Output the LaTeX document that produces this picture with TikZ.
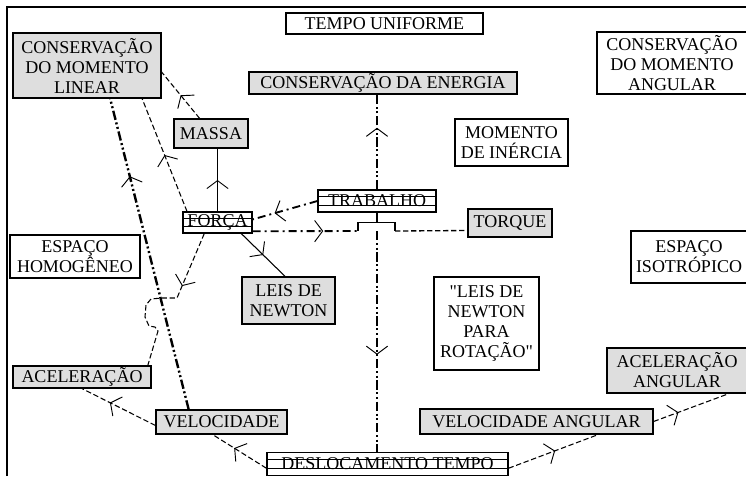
\documentclass[tikz,border=0pt]{standalone}
\usepackage{fontspec}
\newfontfamily\boxfont{Liberation Serif}
\usetikzlibrary{arrows.meta, positioning, calc, decorations.markings}
\definecolor{boxgray}{RGB}{222,222,222}

\begin{document}
\begin{tikzpicture}[
    x=0.75pt, y=-0.75pt,
    font=\boxfont\fontsize{13.5}{15}\selectfont,
    box/.style={rectangle, draw=black, line width=0.9pt, fill=white, align=center, inner sep=1pt},
    gbox/.style={box, fill=boxgray},
    sbox/.style={box, path picture={
        \draw ($(path picture bounding box.north west)!0.3!(path picture bounding box.south west)$)
           -- ($(path picture bounding box.north east)!0.3!(path picture bounding box.south east)$);
        \draw ($(path picture bounding box.north west)!0.7!(path picture bounding box.south west)$)
           -- ($(path picture bounding box.north east)!0.7!(path picture bounding box.south east)$);}},
    sz/.style 2 args={minimum width=#1*0.75pt, minimum height=#2*0.75pt},
    arr/.style={postaction={decorate}, decoration={markings, mark=at position #1 with
        {\arrow{Straight Barb[length=6pt, width=16pt, line width=0.7pt]}}}},
    dsh/.style={line width=0.8pt, dash pattern=on 4pt off 2pt},
    dshdot/.style={line width=1.4pt, dash pattern=on 6pt off 3pt on 1.5pt off 3pt},
    ddot/.style={line width=1.8pt, dash pattern=on 7pt off 2pt on 1.5pt off 2pt on 1.5pt off 2pt},
]
\clip (0,0) rectangle (746,476);

% Frame
\draw[line width=1pt] (7,476) -- (7,7) -- (746,7);

% Top row
\node[box, sz={197}{21}] (tempo) at (384.5,23.5) {TEMPO UNIFORME};
\node[gbox, sz={148}{65}] (conslin) at (87,65.5) {CONSERVAÇÃO\\DO MOMENTO\\LINEAR};
\node[gbox, sz={268}{22}] (consen) at (383,83) {CONSERVAÇÃO DA ENERGIA};
\node[box, sz={150}{62}] (consang) at (672,63) {CONSERVAÇÃO\\DO MOMENTO\\ANGULAR};

% Middle
\node[gbox, sz={74}{29}] (massa) at (211,133.5) {MASSA};
\node[box, sz={113}{47}] (inercia) at (511.5,142.5) {MOMENTO\\DE INÉRCIA};
\node[sbox, sz={118}{22}] (trabalho) at (377,201) {TRABALHO};
\node[sbox, sz={69}{21}] (forca) at (217.5,222.5) {FORÇA};
\node[gbox, sz={84}{28}] (torque) at (510,223) {TORQUE};
\node[box, sz={130}{43}] (homog) at (75,256.5) {ESPAÇO\\HOMOGÊNEO};
\node[box, sz={116}{52}] (isotrop) at (689,257) {ESPAÇO\\ISOTRÓPICO};
\node[gbox, sz={93}{47}] (newton) at (288.5,300.5) {LEIS DE\\NEWTON};
\node[box, sz={105}{93}] (rotacao) at (486.5,323.5) {"LEIS DE\\NEWTON\\PARA\\ROTAÇÃO"};

% Bottom
\node[gbox, sz={138}{22}] (acel) at (82,377) {ACELERAÇÃO};
\node[gbox, sz={140}{45}] (acelang) at (677,370.5) {ACELERAÇÃO\\ANGULAR};
\node[gbox, sz={131}{24}] (veloc) at (221.5,422) {VELOCIDADE};
\node[gbox, sz={233}{25}] (velang) at (536.5,421.5) {VELOCIDADE ANGULAR};
\node[sbox, sz={241}{23}] (desloc) at (387.5,464) {DESLOCAMENTO TEMPO};

% Junction points
\coordinate (jl) at (358,231);
\coordinate (jr) at (395,231);
\coordinate (hop) at (162,298);

% Connectors
\draw[dsh, arr=0.5] (massa.127) -- (conslin.-5);
\draw[line width=0.8pt, arr=0.5] (forca.north) -- (forca.north |- massa.south);
\draw[dsh, arr=0.5] (forca.160) -- (conslin.-31);
\draw[ddot, arr=0.75] (veloc.159) -- (conslin.-55);
\draw[dsh, arr=0.33] (forca.-140) -- (177,298) -- (hop) -- (151,299) -- (146,305)
    -- (145,317) -- (149,326) -- (155,327) -- (158,331) -- (acel.10);
\draw[line width=0.8pt, arr=0.5] (forca.-25) -- (newton.98);
\draw[dshdot, arr=0.66] (trabalho.west) -- (forca.5);
\draw[dshdot, arr=0.67] (forca.-14) -- (jl);
\draw[line width=1.2pt] (trabalho.south) -- ++(0,10) coordinate (tj);
\draw[line width=1.2pt] (jl) |- (tj) -| (jr);
\draw[dsh, line width=1pt] (jr) -- (torque.190);
\draw[ddot, arr=0.56] (tj |- jl) -- (tj |- desloc.north);
\draw[ddot, arr=0.65] (trabalho.north) -- (trabalho.north |- consen.south);
\draw[dsh, arr=0.62] (veloc.183) -- (acel.south);
\draw[dsh, arr=0.6] (desloc.182) -- (veloc.-125);
\draw[dsh, arr=0.52] (desloc.-2) -- (velang.-12);
\draw[dsh, arr=0.33] (velang.east) -- (acelang.-24);

\end{tikzpicture}
\end{document}
